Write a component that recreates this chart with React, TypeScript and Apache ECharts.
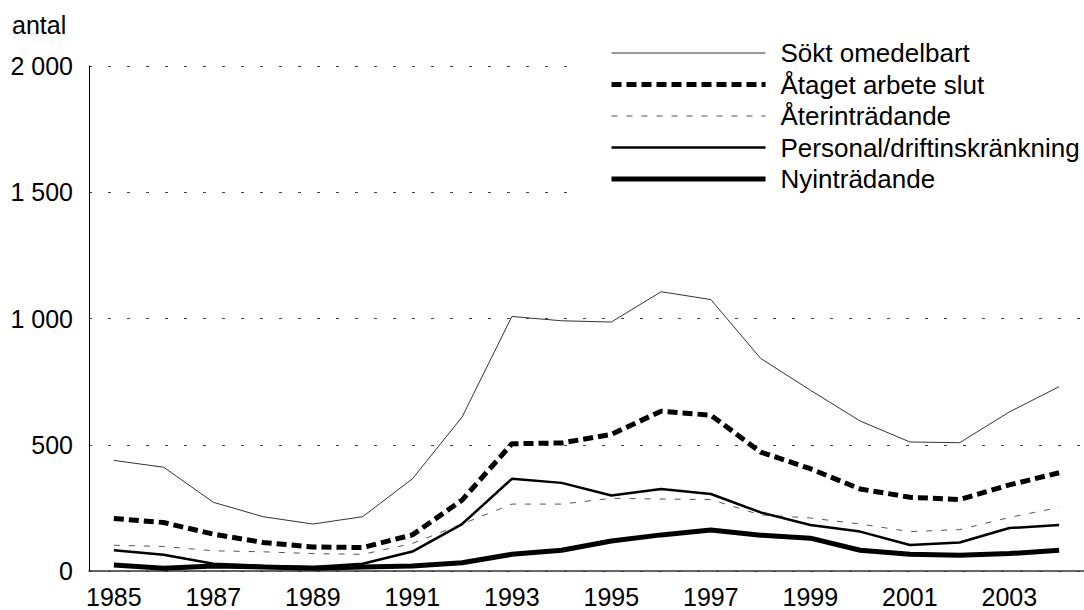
import React, { useEffect, useRef } from "react";
import * as echarts from "echarts";

const years = [
  "1985", "1986", "1987", "1988", "1989", "1990", "1991", "1992", "1993", "1994",
  "1995", "1996", "1997", "1998", "1999", "2000", "2001", "2002", "2003", "2004",
];
const seriesNames = [
  "Sökt omedelbart",
  "Åtaget arbete slut",
  "Återinträdande",
  "Personal/driftinskränkning",
  "Nyinträdande",
];
const soktOmedelbart = [438, 411, 272, 215, 186, 215, 365, 610, 1008, 991, 986, 1106, 1075, 842, 716, 594, 511, 508, 630, 730];
const atagetArbeteSlut = [208, 192, 146, 113, 95, 93, 143, 281, 504, 507, 541, 633, 617, 471, 405, 325, 292, 283, 341, 389];
const aterintradande = [102, 97, 80, 76, 69, 66, 109, 186, 265, 265, 288, 285, 283, 222, 210, 186, 156, 164, 212, 252];
const personalDrift = [82, 64, 29, 20, 16, 29, 77, 186, 365, 349, 299, 325, 305, 232, 182, 156, 103, 113, 170, 182];
const nyintradande = [24, 11, 20, 16, 11, 16, 20, 33, 66, 82, 119, 143, 162, 142, 130, 82, 66, 62, 69, 82];
const yAxisTitle = "antal";

const FONT = "'Liberation Sans', Arial, Helvetica, sans-serif";

const lineStyles = [
  { color: "#333", width: 1, type: "solid" as any },
  { color: "#000", width: 5, type: [10, 5] as any },
  { color: "#555", width: 1, type: [6, 9] as any },
  { color: "#000", width: 2.5, type: "solid" as any },
  { color: "#000", width: 5, type: "solid" as any },
];

function fmt(v: number): string {
  if (v >= 1000) {
    const th = Math.floor(v / 1000);
    const rest = String(v % 1000).padStart(3, "0");
    return `${th} ${rest}`;
  }
  return String(v);
}

export default function App() {
  const ref = useRef<HTMLDivElement>(null);
  useEffect(() => {
    if (!ref.current) return;
    const chart = echarts.init(ref.current, undefined, { renderer: "svg" });
    const allData = [soktOmedelbart, atagetArbeteSlut, aterintradande, personalDrift, nyintradande];
    chart.setOption({
      animation: false,
      backgroundColor: "#fff",
      textStyle: { fontFamily: FONT, color: "#000" },
      grid: { left: 89, right: -7, top: 66, bottom: 39, containLabel: false },
      graphic: [
        {
          type: "text",
          left: 12,
          top: 12,
          style: { text: yAxisTitle, font: `25px ${FONT}`, fill: "#000" },
        },
      ],
      legend: {
        orient: "vertical",
        left: 580,
        top: 33,
        padding: [6, 4, 6, 29],
        backgroundColor: "#fff",
        itemWidth: 154,
        itemHeight: 14,
        itemGap: 3.5,
        itemStyle: { opacity: 0 },
        selectedMode: false,
        textStyle: {
          fontFamily: FONT,
          fontSize: 26,
          lineHeight: 28,
          color: "#000",
          padding: [0, 0, 0, 10],
        },
        data: seriesNames.map((n, i) => ({
          name: n,
          itemStyle: { opacity: 0 },
          lineStyle: { width: lineStyles[i].width, type: lineStyles[i].type, color: lineStyles[i].color },
        })),
        z: 10,
      },
      xAxis: {
        type: "category",
        data: years,
        boundaryGap: true,
        axisLine: { show: true, lineStyle: { color: "#333", width: 1.5 } },
        axisTick: { show: false },
        axisLabel: {
          interval: 1,
          fontSize: 25,
          fontFamily: FONT,
          color: "#000",
          margin: 13,
        },
        splitLine: { show: false },
      },
      yAxis: {
        type: "value",
        min: 0,
        max: 2000,
        interval: 500,
        axisLine: { show: true, lineStyle: { color: "#000", width: 1 } },
        axisTick: { show: false },
        axisLabel: {
          fontSize: 25,
          fontFamily: FONT,
          color: "#000",
          margin: 16,
          formatter: (v: number) => fmt(v),
        },
        splitLine: {
          show: true,
          lineStyle: { color: "#444", width: 1, type: [3, 16] },
        },
      },
      series: seriesNames.map((n, i) => ({
        name: n,
        type: "line",
        data: allData[i],
        symbol: "none",
        showSymbol: false,
        lineStyle: lineStyles[i],
        itemStyle: { color: lineStyles[i].color },
        z: i === 4 ? 5 : 3,
      })),
    });
    return () => chart.dispose();
  }, []);
  return (
    <div
      ref={ref}
      style={{ position: "absolute", left: 0, top: 0, width: 1084, height: 610 }}
    />
  );
}
